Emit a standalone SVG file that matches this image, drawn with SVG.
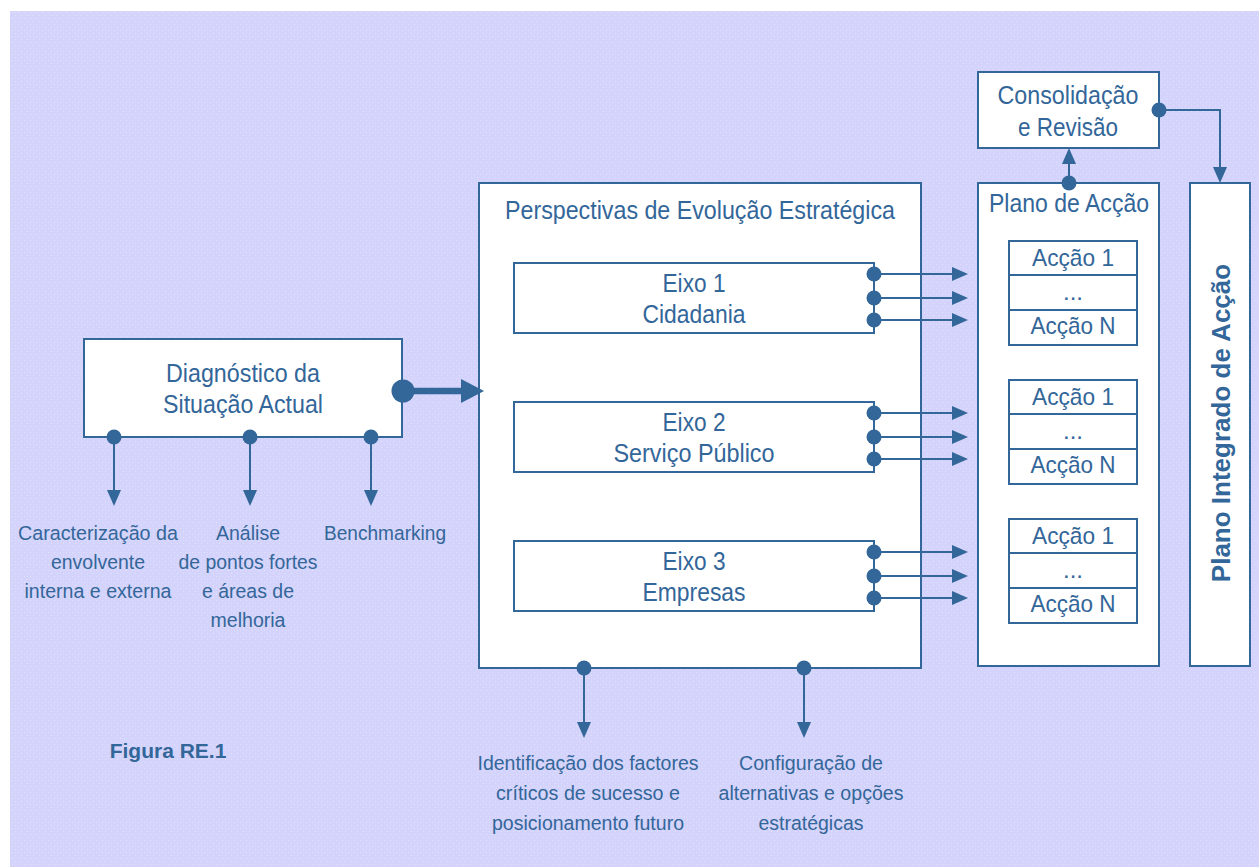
<svg xmlns="http://www.w3.org/2000/svg" width="1259" height="867" viewBox="0 0 1259 867">
  <defs>
    <pattern id="weave" width="6" height="6" patternUnits="userSpaceOnUse">
      <rect width="6" height="6" fill="#d3d3fb"/>
      <rect x="0" y="0" width="1" height="1" fill="#e2e2fd"/>
      <rect x="3" y="3" width="1" height="1" fill="#e2e2fd"/>
      <rect x="3" y="0" width="1" height="1" fill="#dadafc"/>
    </pattern>
    <marker id="ah" markerUnits="userSpaceOnUse" markerWidth="16" markerHeight="14" refX="0" refY="7" orient="auto" overflow="visible">
      <path d="M0,0 L16,7 L0,14 z" fill="#336699"/>
    </marker>
    <style>
      .box { fill: #ffffff; stroke: #336699; stroke-width: 2; }
      .wire { fill: none; stroke: #336699; stroke-width: 2; }
      .dot { fill: #336699; }
      text { font-family: "Liberation Sans", Arial, sans-serif; fill: #336699; text-anchor: middle; }
      .t { font-size: 25px; }
      .a { font-size: 24px; }
      .lbl { font-size: 20.5px; }
    </style>
  </defs>

  <!-- page background -->
  <rect x="0" y="0" width="1259" height="867" fill="#ffffff"/>
  <rect x="10" y="11" width="1249" height="856" fill="url(#weave)"/>

  <!-- Diagnóstico -->
  <g id="diagnostico">
    <rect class="box" x="84" y="339" width="318" height="98"/>
    <text class="t" x="243" y="382" textLength="154" lengthAdjust="spacingAndGlyphs">Diagnóstico da</text>
    <text class="t" x="243" y="413" textLength="160" lengthAdjust="spacingAndGlyphs">Situação Actual</text>
  </g>

  <!-- diagnostic outputs -->
  <g id="lbl-caracterizacao">
    <text class="lbl" x="98" y="540" textLength="160" lengthAdjust="spacingAndGlyphs">Caracterização da</text>
    <text class="lbl" x="98" y="569" textLength="94" lengthAdjust="spacingAndGlyphs">envolvente</text>
    <text class="lbl" x="98" y="598" textLength="147" lengthAdjust="spacingAndGlyphs">interna e externa</text>
  </g>
  <g id="lbl-analise">
    <text class="lbl" x="248" y="540" textLength="64" lengthAdjust="spacingAndGlyphs">Análise</text>
    <text class="lbl" x="248" y="569" textLength="139" lengthAdjust="spacingAndGlyphs">de pontos fortes</text>
    <text class="lbl" x="248" y="598" textLength="92" lengthAdjust="spacingAndGlyphs">e áreas de</text>
    <text class="lbl" x="248" y="627" textLength="75" lengthAdjust="spacingAndGlyphs">melhoria</text>
  </g>
  <g id="lbl-benchmarking">
    <text class="lbl" x="385" y="540" textLength="122" lengthAdjust="spacingAndGlyphs">Benchmarking</text>
  </g>

  <!-- Perspectivas de Evolução Estratégica -->
  <g id="perspectivas">
    <rect class="box" x="479" y="183" width="442" height="485"/>
    <text class="t" x="700" y="219" textLength="390" lengthAdjust="spacingAndGlyphs">Perspectivas de Evolução Estratégica</text>
  </g>
  <g id="eixo1">
    <rect class="box" x="514" y="263" width="360" height="70"/>
    <text class="t" x="694" y="292" textLength="63" lengthAdjust="spacingAndGlyphs">Eixo 1</text>
    <text class="t" x="694" y="323" textLength="103" lengthAdjust="spacingAndGlyphs">Cidadania</text>
  </g>
  <g id="eixo2">
    <rect class="box" x="514" y="402" width="360" height="70"/>
    <text class="t" x="694" y="431" textLength="63" lengthAdjust="spacingAndGlyphs">Eixo 2</text>
    <text class="t" x="694" y="462" textLength="161" lengthAdjust="spacingAndGlyphs">Serviço Público</text>
  </g>
  <g id="eixo3">
    <rect class="box" x="514" y="541" width="360" height="70"/>
    <text class="t" x="694" y="570" textLength="63" lengthAdjust="spacingAndGlyphs">Eixo 3</text>
    <text class="t" x="694" y="601" textLength="103" lengthAdjust="spacingAndGlyphs">Empresas</text>
  </g>

  <g id="lbl-identificacao">
    <text class="lbl" x="588" y="770" textLength="221" lengthAdjust="spacingAndGlyphs">Identificação dos factores</text>
    <text class="lbl" x="588" y="800" textLength="184" lengthAdjust="spacingAndGlyphs">críticos de sucesso e</text>
    <text class="lbl" x="588" y="830" textLength="192" lengthAdjust="spacingAndGlyphs">posicionamento futuro</text>
  </g>
  <g id="lbl-configuracao">
    <text class="lbl" x="811" y="770" textLength="144" lengthAdjust="spacingAndGlyphs">Configuração de</text>
    <text class="lbl" x="811" y="800" textLength="185" lengthAdjust="spacingAndGlyphs">alternativas e opções</text>
    <text class="lbl" x="811" y="830" textLength="105" lengthAdjust="spacingAndGlyphs">estratégicas</text>
  </g>

  <!-- Plano de Acção -->
  <g id="plano-accao">
    <rect class="box" x="978" y="183" width="181" height="483"/>
    <text class="t" x="1069" y="212" textLength="160" lengthAdjust="spacingAndGlyphs">Plano de Acção</text>
  </g>
  <g id="accoes1">
    <rect class="box" x="1009" y="241" width="128" height="104"/>
    <line class="wire" x1="1009" y1="275" x2="1137" y2="275"/>
    <line class="wire" x1="1009" y1="310" x2="1137" y2="310"/>
    <text class="a" x="1073" y="266" textLength="82" lengthAdjust="spacingAndGlyphs">Acção 1</text>
    <text class="a" x="1073" y="300">...</text>
    <text class="a" x="1073" y="334" textLength="85" lengthAdjust="spacingAndGlyphs">Acção N</text>
  </g>
  <g id="accoes2">
    <rect class="box" x="1009" y="380" width="128" height="104"/>
    <line class="wire" x1="1009" y1="414" x2="1137" y2="414"/>
    <line class="wire" x1="1009" y1="449" x2="1137" y2="449"/>
    <text class="a" x="1073" y="405" textLength="82" lengthAdjust="spacingAndGlyphs">Acção 1</text>
    <text class="a" x="1073" y="439">...</text>
    <text class="a" x="1073" y="473" textLength="85" lengthAdjust="spacingAndGlyphs">Acção N</text>
  </g>
  <g id="accoes3">
    <rect class="box" x="1009" y="519" width="128" height="104"/>
    <line class="wire" x1="1009" y1="553" x2="1137" y2="553"/>
    <line class="wire" x1="1009" y1="588" x2="1137" y2="588"/>
    <text class="a" x="1073" y="544" textLength="82" lengthAdjust="spacingAndGlyphs">Acção 1</text>
    <text class="a" x="1073" y="578">...</text>
    <text class="a" x="1073" y="612" textLength="85" lengthAdjust="spacingAndGlyphs">Acção N</text>
  </g>

  <!-- Consolidação e Revisão -->
  <g id="consolidacao">
    <rect class="box" x="978" y="72" width="181" height="76"/>
    <text class="t" x="1068" y="104" textLength="141" lengthAdjust="spacingAndGlyphs">Consolidação</text>
    <text class="t" x="1068" y="136" textLength="100" lengthAdjust="spacingAndGlyphs">e Revisão</text>
  </g>

  <!-- Plano Integrado de Acção -->
  <g id="plano-integrado">
    <rect class="box" x="1190" y="183" width="60" height="483"/>
    <text x="1230" y="423" font-size="26" font-weight="bold" transform="rotate(-90 1230 423)">Plano Integrado de Acção</text>
  </g>

  <g id="figura">
    <text x="168" y="758" font-size="21" font-weight="bold">Figura RE.1</text>
  </g>

  <!-- connectors -->
  <g id="connectors">
    <!-- Diagnóstico to Perspectivas -->
    <line x1="403" y1="391" x2="463" y2="391" stroke="#336699" stroke-width="6.5"/>
    <polygon points="461,379 484,391 461,403" fill="#336699"/>
    <circle class="dot" cx="403" cy="391" r="11.5"/>

    <!-- Diagnóstico outputs -->
    <line class="wire" x1="114" y1="437" x2="114" y2="490" marker-end="url(#ah)"/>
    <line class="wire" x1="250" y1="437" x2="250" y2="490" marker-end="url(#ah)"/>
    <line class="wire" x1="371" y1="437" x2="371" y2="490" marker-end="url(#ah)"/>
    <circle class="dot" cx="114" cy="437" r="7.5"/>
    <circle class="dot" cx="250" cy="437" r="7.5"/>
    <circle class="dot" cx="371" cy="437" r="7.5"/>

    <!-- Eixo 1 to actions -->
    <line class="wire" x1="874" y1="274" x2="952" y2="274" marker-end="url(#ah)"/>
    <line class="wire" x1="874" y1="298" x2="952" y2="298" marker-end="url(#ah)"/>
    <line class="wire" x1="874" y1="320" x2="952" y2="320" marker-end="url(#ah)"/>
    <circle class="dot" cx="874" cy="274" r="7.5"/>
    <circle class="dot" cx="874" cy="298" r="7.5"/>
    <circle class="dot" cx="874" cy="320" r="7.5"/>

    <!-- Eixo 2 to actions -->
    <line class="wire" x1="874" y1="413" x2="952" y2="413" marker-end="url(#ah)"/>
    <line class="wire" x1="874" y1="437" x2="952" y2="437" marker-end="url(#ah)"/>
    <line class="wire" x1="874" y1="459" x2="952" y2="459" marker-end="url(#ah)"/>
    <circle class="dot" cx="874" cy="413" r="7.5"/>
    <circle class="dot" cx="874" cy="437" r="7.5"/>
    <circle class="dot" cx="874" cy="459" r="7.5"/>

    <!-- Eixo 3 to actions -->
    <line class="wire" x1="874" y1="552" x2="952" y2="552" marker-end="url(#ah)"/>
    <line class="wire" x1="874" y1="576" x2="952" y2="576" marker-end="url(#ah)"/>
    <line class="wire" x1="874" y1="598" x2="952" y2="598" marker-end="url(#ah)"/>
    <circle class="dot" cx="874" cy="552" r="7.5"/>
    <circle class="dot" cx="874" cy="576" r="7.5"/>
    <circle class="dot" cx="874" cy="598" r="7.5"/>

    <!-- Perspectivas outputs -->
    <line class="wire" x1="584" y1="668" x2="584" y2="722" marker-end="url(#ah)"/>
    <line class="wire" x1="804" y1="668" x2="804" y2="722" marker-end="url(#ah)"/>
    <circle class="dot" cx="584" cy="668" r="7.5"/>
    <circle class="dot" cx="804" cy="668" r="7.5"/>

    <!-- Plano de Acção to Consolidação -->
    <line class="wire" x1="1069" y1="183" x2="1069" y2="164" marker-end="url(#ah)"/>
    <circle class="dot" cx="1069" cy="183" r="7.5"/>

    <!-- Consolidação to Plano Integrado -->
    <polyline class="wire" points="1159,110 1220,110 1220,167" marker-end="url(#ah)"/>
    <circle class="dot" cx="1159" cy="110" r="7.5"/>
  </g>
</svg>
